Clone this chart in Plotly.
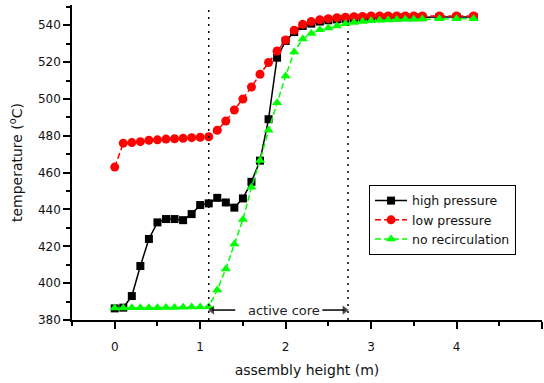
import plotly.graph_objects as go

# assembly height (m)
heights = [0.0, 0.1, 0.2, 0.3, 0.4, 0.5, 0.6, 0.7, 0.8, 0.9,
           1.0, 1.1, 1.2, 1.3, 1.4, 1.5, 1.6, 1.7, 1.8, 1.9,
           2.0, 2.1, 2.2, 2.3, 2.4, 2.5, 2.6, 2.7, 2.8, 2.9,
           3.0, 3.1, 3.2, 3.3, 3.4, 3.5, 3.6, 3.8, 4.0, 4.2]

high_pressure = [386.3, 386.7, 393.0, 409.3, 424.0, 433.0, 434.8, 434.8, 434.2, 437.5,
                 442.4, 443.3, 446.3, 443.8, 441.0, 446.0, 455.0, 466.5, 489.0, 522.4,
                 531.5, 536.3, 539.6, 540.9, 542.0, 542.7, 543.2, 543.5, 543.8, 544.0,
                 544.1, 544.2, 544.3, 544.3, 544.4, 544.4, 544.4, 544.5, 544.5, 544.5]

low_pressure = [463.0, 476.0, 476.3, 476.8, 477.6, 477.8, 478.2, 478.4, 478.6, 479.0,
                479.2, 479.5, 483.0, 488.0, 494.0, 500.0, 506.5, 513.4, 519.8, 526.0,
                532.0, 537.3, 540.5, 542.0, 543.0, 543.6, 544.1, 544.4, 544.6, 544.8,
                545.0, 545.0, 545.0, 545.0, 545.0, 545.0, 545.0, 545.0, 545.0, 545.0]

no_recirculation = [386.5, 386.5, 386.6, 386.6, 386.7, 386.7, 386.8, 386.8, 386.9, 387.0,
                    387.1, 387.2, 396.3, 407.7, 421.2, 434.6, 452.0, 466.6, 483.0, 498.0,
                    512.5, 525.5, 532.6, 535.5, 537.5, 538.5, 539.6, 540.8, 541.5, 542.0,
                    542.4, 542.7, 542.9, 543.1, 543.2, 543.3, 543.4, 543.5, 543.6, 543.6]

y_ticks = [380, 400, 420, 440, 460, 480, 500, 520, 540]
x_ticks = [0, 1, 2, 3, 4, 5]

core_start = 1.1
core_end = 2.73
core_label_x = 1.98
core_label_y = 385.4
arrow_left_tail = 1.41
arrow_right_tail = 2.43

FONT = "DejaVu Sans, Verdana, sans-serif"
TXT = "#111111"

fig = go.Figure()
fig.add_trace(go.Scatter(x=heights, y=high_pressure, name="high pressure",
                         mode="lines+markers",
                         line=dict(color="#000000", width=1.5),
                         marker=dict(symbol="square", size=8, color="#000000")))
fig.add_trace(go.Scatter(x=heights, y=low_pressure, name="low pressure",
                         mode="lines+markers",
                         line=dict(color="#ff0000", width=1.5, dash="6px,3px"),
                         marker=dict(symbol="circle", size=9, color="#ff0000")))
fig.add_trace(go.Scatter(x=heights, y=no_recirculation, name="no recirculation",
                         mode="lines+markers",
                         line=dict(color="#00ff00", width=1.5, dash="6px,3px"),
                         marker=dict(symbol="triangle-up", size=9, color="#00ff00")))

# active-core arrows
fig.add_trace(go.Scatter(
    x=[core_start + 0.04, arrow_left_tail, None, arrow_right_tail, core_end - 0.04],
    y=[core_label_y, core_label_y, None, core_label_y, core_label_y],
    mode="lines+markers", showlegend=False, hoverinfo="skip",
    line=dict(color="#000000", width=1.5),
    marker=dict(symbol=["triangle-left", "circle", "circle", "circle", "triangle-right"],
                size=[8, 0, 0, 0, 8], color="#000000", line=dict(width=0))))

fig.add_shape(type="line", x0=core_start, x1=core_start, y0=380, y1=551,
              xref="x", yref="y", line=dict(color="#000000", width=1.5, dash="2px,5px"))
fig.add_shape(type="line", x0=core_end, x1=core_end, y0=380, y1=540,
              xref="x", yref="y", line=dict(color="#000000", width=1.5, dash="2px,5px"))

fig.add_annotation(x=core_label_x, y=core_label_y, xref="x", yref="y", text="active core",
                   showarrow=False, font=dict(family=FONT, size=13, color="#222222"))

fig.update_layout(
    width=544, height=383,
    margin=dict(l=72, r=2, t=5, b=63, autoexpand=False),
    paper_bgcolor="white", plot_bgcolor="white",
    font=dict(family=FONT, size=12, color=TXT),
    showlegend=True,
    legend=dict(x=0.632, y=0.4286, xanchor="left", yanchor="top",
                bgcolor="white", bordercolor="#000000", borderwidth=1,
                font=dict(family=FONT, size=12.5, color=TXT),
                tracegroupgap=0, itemwidth=32),
    xaxis=dict(range=[-0.5, 5], tickvals=x_ticks, ticktext=[str(v) for v in x_ticks],
               showgrid=False, zeroline=False, showline=True, linecolor="#000000",
               linewidth=1.5, ticks="outside", ticklen=7, tickwidth=1.5, tickcolor="#000000",
               minor=dict(ticks="outside", ticklen=4, tickwidth=1.5, dtick=0.5,
                          tick0=0, tickcolor="#000000", showgrid=False),
               tickfont=dict(family=FONT, size=12, color=TXT), automargin=False,
               ticklabelstandoff=8,
               title=dict(text="assembly height (m)", font=dict(family=FONT, size=14, color=TXT),
                          standoff=12)),
    yaxis=dict(range=[380, 551], tickvals=y_ticks, ticktext=[str(v) for v in y_ticks],
               showgrid=False, zeroline=False, showline=True, linecolor="#000000",
               linewidth=1.5, ticks="outside", ticklen=7, tickwidth=1.5, tickcolor="#000000",
               minor=dict(ticks="outside", ticklen=4, tickwidth=1.5, dtick=10,
                          tick0=380, tickcolor="#000000", showgrid=False),
               tickfont=dict(family=FONT, size=12, color=TXT), automargin=False,
               title=dict(text="temperature (<sup>o</sup>C)", font=dict(family=FONT, size=14, color=TXT),
                          standoff=12)),
)

fig.write_html("out.html", config={"displayModeBar": False},
               post_script="document.body.style.margin='0';document.body.style.overflow='hidden';")
